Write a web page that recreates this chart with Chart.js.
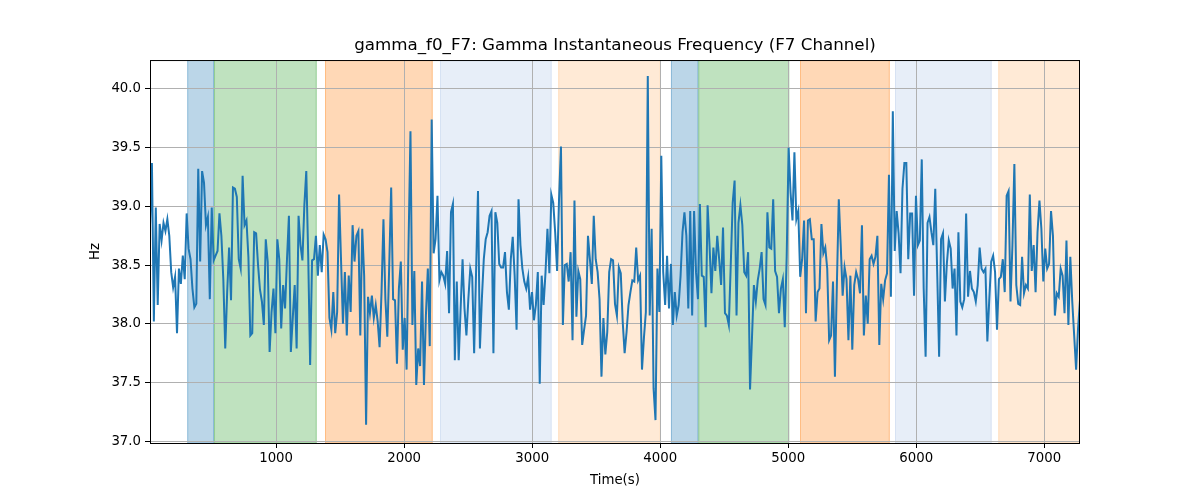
<!DOCTYPE html>
<html>
<head>
<meta charset="utf-8">
<title>gamma_f0_F7</title>
<script src="https://cdn.jsdelivr.net/npm/chart.js@4.4.1/dist/chart.umd.min.js"></script>
<style>
  html, body { margin: 0; padding: 0; background: #fff; }
  #wrap { width: 1200px; height: 500px; }
</style>
</head>
<body>
<div id="wrap"><canvas id="freqChart" width="1200" height="500"></canvas></div>
<script>
// sample grid of the recording (seconds)
var tStart = 15;
var tStep = 15.07;
var xMin = 15;
var xMax = 7279;

// instantaneous frequency (Hz)
var hz = [
  // 0 - 900 s
  38.84, 39.37, 38.02, 38.99, 38.16, 38.85, 38.71, 38.86, 38.79, 38.89,
  38.75, 38.44, 38.31, 38.40, 37.92, 38.47, 38.34, 38.58, 38.38, 38.94,
  38.64, 38.55, 38.30, 38.14, 38.17, 39.32, 38.53, 39.30, 39.20, 38.84,
  38.91, 38.21, 38.99, 38.54, 38.58, 38.62, 38.94, 38.75, 38.38, 37.79,
  38.27, 38.65, 38.20, 39.16, 39.15, 39.08, 38.55, 38.47, 39.26, 38.84,
  38.88, 38.57, 37.90, 37.92, 38.78, 38.77, 38.50, 38.29, 38.19, 37.99,
  // 900 - 1800 s
  38.72, 38.53, 37.76, 38.10, 38.30, 37.92, 38.72, 38.55, 37.96, 38.33,
  38.13, 38.55, 38.92, 37.76, 38.05, 38.33, 37.79, 38.92, 38.67, 38.54,
  39.01, 39.30, 38.58, 37.65, 38.54, 38.55, 38.75, 38.41, 38.67, 38.44,
  38.76, 38.72, 38.61, 38.05, 37.95, 38.27, 37.92, 38.10, 39.10, 38.55,
  38.00, 38.44, 37.90, 38.41, 38.10, 38.84, 38.53, 38.75, 38.79, 37.90,
  38.81, 38.41, 37.14, 38.23, 38.09, 38.24, 38.05, 38.16, 38.02,
  // 1800 - 2700 s
  37.80, 38.27, 38.89, 38.21, 37.89, 38.50, 39.16, 38.21, 38.20, 37.66,
  38.30, 38.53, 37.78, 38.05, 37.61, 38.67, 39.64, 37.99, 38.45, 37.48,
  37.79, 37.64, 38.36, 37.48, 38.07, 38.47, 37.81, 39.74, 38.60, 38.72,
  39.09, 38.37, 38.44, 38.41, 38.34, 38.62, 38.09, 38.95, 39.02, 37.69,
  38.36, 37.69, 38.13, 38.55, 38.13, 37.90, 38.21, 38.47, 38.40, 37.75,
  38.44, 39.13, 37.79, 38.21, 38.55, 38.72, 38.78, 38.92, 38.96,
  // 2700 - 3600 s
  37.75, 38.95, 38.86, 38.51, 38.48, 38.48, 38.61, 38.27, 38.12, 38.55,
  38.74, 38.41, 37.95, 39.06, 38.67, 38.47, 38.36, 38.30, 38.40, 38.12,
  38.27, 38.03, 38.16, 38.44, 37.49, 38.41, 38.16, 38.44, 38.81, 38.43,
  39.10, 39.03, 38.78, 38.45, 39.06, 39.51, 37.99, 38.50, 38.51, 38.36,
  38.61, 37.86, 39.05, 38.06, 38.45, 38.38, 37.82, 37.95, 38.07, 38.75,
  38.55, 38.34, 38.92, 38.55, 38.44, 38.21, 37.55, 38.05, 37.74,
  // 3600 - 4500 s
  37.93, 38.44, 38.55, 38.54, 38.17, 38.07, 38.48, 38.43, 38.02, 37.75,
  37.93, 38.16, 38.27, 38.37, 38.36, 38.65, 38.37, 38.41, 37.61, 37.88,
  38.10, 40.11, 38.07, 38.81, 37.45, 37.18, 38.47, 38.10, 39.43, 38.44,
  38.16, 38.58, 38.13, 38.51, 37.99, 38.27, 38.07, 38.16, 38.41, 38.78,
  38.95, 38.75, 38.13, 38.96, 38.07, 38.96, 38.44, 38.21, 39.02, 38.41,
  38.40, 37.97, 39.01, 38.67, 38.26, 38.65, 38.45, 38.75,
  // 4500 - 5400 s
  38.55, 38.33, 38.82,
  38.09, 38.07, 37.99, 38.50, 39.03, 39.22, 38.07, 38.86, 39.01, 38.84,
  38.44, 38.41, 38.61, 37.44, 37.88, 38.33, 38.19, 38.37, 38.47, 38.61,
  38.21, 38.16, 38.95, 38.65, 38.64, 39.06, 38.45, 38.40, 38.09, 38.30,
  38.38, 37.97, 38.58, 39.50, 39.12, 38.88, 39.46, 38.89, 38.96, 38.40,
  38.55, 38.88, 38.09, 38.88, 38.89, 38.72, 38.72, 38.02, 38.27, 38.30,
  38.85, 38.60, 38.65, 38.47, 37.86, 37.90, 38.36,
  // 5400 - 6300 s
  37.55, 38.33, 39.06,
  38.67, 38.24, 38.48, 38.38, 37.86, 38.41, 37.78, 38.33, 38.44, 38.38,
  38.26, 38.84, 37.90, 38.24, 38.00, 38.55, 38.58, 38.51, 38.57, 38.75,
  37.82, 38.34, 38.21, 38.37, 38.43, 39.27, 38.23, 39.81, 38.62, 38.96,
  38.77, 38.43, 39.15, 39.37, 39.37, 38.55, 38.94, 38.94, 38.24, 39.09,
  38.67, 38.71, 39.40, 38.30, 37.72, 38.86, 38.91, 38.78, 38.67, 39.15,
  38.44, 37.72, 38.72, 38.77, 38.19, 38.51, 38.71,
  // 6300 - end
  38.64, 38.30, 38.47,
  37.90, 38.78, 38.19, 38.14, 38.21, 38.94, 38.23, 38.45, 38.30, 38.27,
  38.19, 38.33, 38.65, 38.47, 38.44, 38.47, 37.85, 38.21, 38.53, 38.58,
  38.44, 37.95, 38.38, 38.40, 38.55, 38.27, 39.09, 39.13, 38.19, 38.67,
  39.36, 38.33, 38.17, 38.16, 38.57, 38.26, 38.33, 38.30, 39.10, 38.45,
  38.67, 38.27, 38.78, 39.05, 38.81, 38.36, 38.64, 38.47, 38.51, 38.96,
  38.75, 38.07, 38.26, 38.23, 38.47, 38.41, 38.09, 38.71, 37.99, 38.57,
  38.19, 37.90, 37.61, 37.96, 38.20
];

// shaded segments
var spanStart = [306, 515, 1382, 2280, 3204, 4084, 4298, 5092, 5834, 6641];
var spanEnd   = [515, 1317, 2223, 3152, 4004, 4298, 5008, 5793, 6589, 7300];
var spanColor = [
  "rgba(31,119,180,0.3)", "rgba(44,160,44,0.3)", "rgba(255,127,14,0.3)",
  "rgba(174,199,232,0.3)", "rgba(255,187,120,0.3)",
  "rgba(31,119,180,0.3)", "rgba(44,160,44,0.3)", "rgba(255,127,14,0.3)",
  "rgba(174,199,232,0.3)", "rgba(255,187,120,0.3)"
];

var xTicks = [1000, 2000, 3000, 4000, 5000, 6000, 7000];
var yTicks = [37.0, 37.5, 38.0, 38.5, 39.0, 39.5, 40.0];

var points = [];
for (var i = 0; i < hz.length; i++) {
  points.push({ x: tStart + i * tStep, y: hz[i] });
}

var FONT = "'DejaVu Sans', sans-serif";

// colored bands behind the grid
var spanPlugin = {
  id: "spans",
  beforeDraw: function (chart) {
    var ctx = chart.ctx, area = chart.chartArea, xs = chart.scales.x;
    ctx.save();
    ctx.beginPath();
    ctx.rect(area.left, area.top, area.right - area.left, area.bottom - area.top);
    ctx.clip();
    for (var i = 0; i < spanStart.length; i++) {
      var a = xs.getPixelForValue(spanStart[i]);
      var b = xs.getPixelForValue(spanEnd[i]);
      ctx.fillStyle = spanColor[i];
      ctx.fillRect(a, area.top, b - a, area.bottom - area.top);
      ctx.strokeStyle = spanColor[i];
      ctx.lineWidth = 1;
      ctx.strokeRect(a + 0.5, area.top, b - a - 1, area.bottom - area.top);
    }
    ctx.restore();
  }
};

// box around the axes, like matplotlib spines
var framePlugin = {
  id: "frame",
  afterDraw: function (chart) {
    var ctx = chart.ctx, area = chart.chartArea;
    ctx.save();
    ctx.strokeStyle = "#000";
    ctx.lineWidth = 1;
    ctx.strokeRect(area.left + 0.5, area.top + 0.5, area.right - area.left - 1, area.bottom - area.top);
    ctx.restore();
  }
};

var ctx = document.getElementById("freqChart").getContext("2d");
var myChart = new Chart(ctx, {
  type: "line",
  data: {
    datasets: [{
      label: "gamma_f0_F7",
      data: points,
      borderColor: "#1f77b4",
      borderWidth: 2,
      pointRadius: 0,
      tension: 0,
      fill: false
    }]
  },
  options: {
    responsive: false,
    animation: false,
    devicePixelRatio: 1,
    layout: { padding: { left: 0, right: 120, top: 0, bottom: 0 } },
    plugins: {
      legend: { display: false },
      tooltip: { enabled: false },
      title: {
        display: true,
        fullSize: false,
        text: "gamma_f0_F7: Gamma Instantaneous Frequency (F7 Channel)",
        color: "#000",
        font: { family: FONT, size: 16.7, weight: "normal" },
        padding: { top: 36, bottom: 4 }
      }
    },
    scales: {
      x: {
        type: "linear",
        min: xMin,
        max: xMax,
        afterBuildTicks: function (axis) { axis.ticks = xTicks.map(function (v) { return { value: v }; }); },
        afterFit: function (axis) { axis.height = 57; },
        ticks: {
          color: "#000",
          font: { family: FONT, size: 13.3 },
          padding: 3,
          maxRotation: 0,
          callback: function (v) { return String(v); }
        },
        grid: { color: "#b0b0b0", lineWidth: 1, drawTicks: true, tickLength: 5, tickColor: "#000" },
        border: { display: false },
        title: {
          display: true,
          text: "Time(s)",
          color: "#000",
          font: { family: FONT, size: 13.3 },
          padding: { top: 4, bottom: 11 }
        }
      },
      y: {
        type: "linear",
        min: 36.985,
        max: 40.246,
        afterBuildTicks: function (axis) { axis.ticks = yTicks.map(function (v) { return { value: v }; }); },
        afterFit: function (axis) { axis.width = 150; },
        ticks: {
          color: "#000",
          font: { family: FONT, size: 13.3 },
          padding: 4,
          callback: function (v) { return Number(v).toFixed(1); }
        },
        grid: { color: "#b0b0b0", lineWidth: 1, drawTicks: true, tickLength: 5, tickColor: "#000" },
        border: { display: false },
        title: {
          display: true,
          text: "Hz",
          color: "#000",
          font: { family: FONT, size: 13.3 },
          padding: { top: 88, bottom: 0 }
        }
      }
    }
  },
  plugins: [spanPlugin, framePlugin]
});
</script>
</body>
</html>
